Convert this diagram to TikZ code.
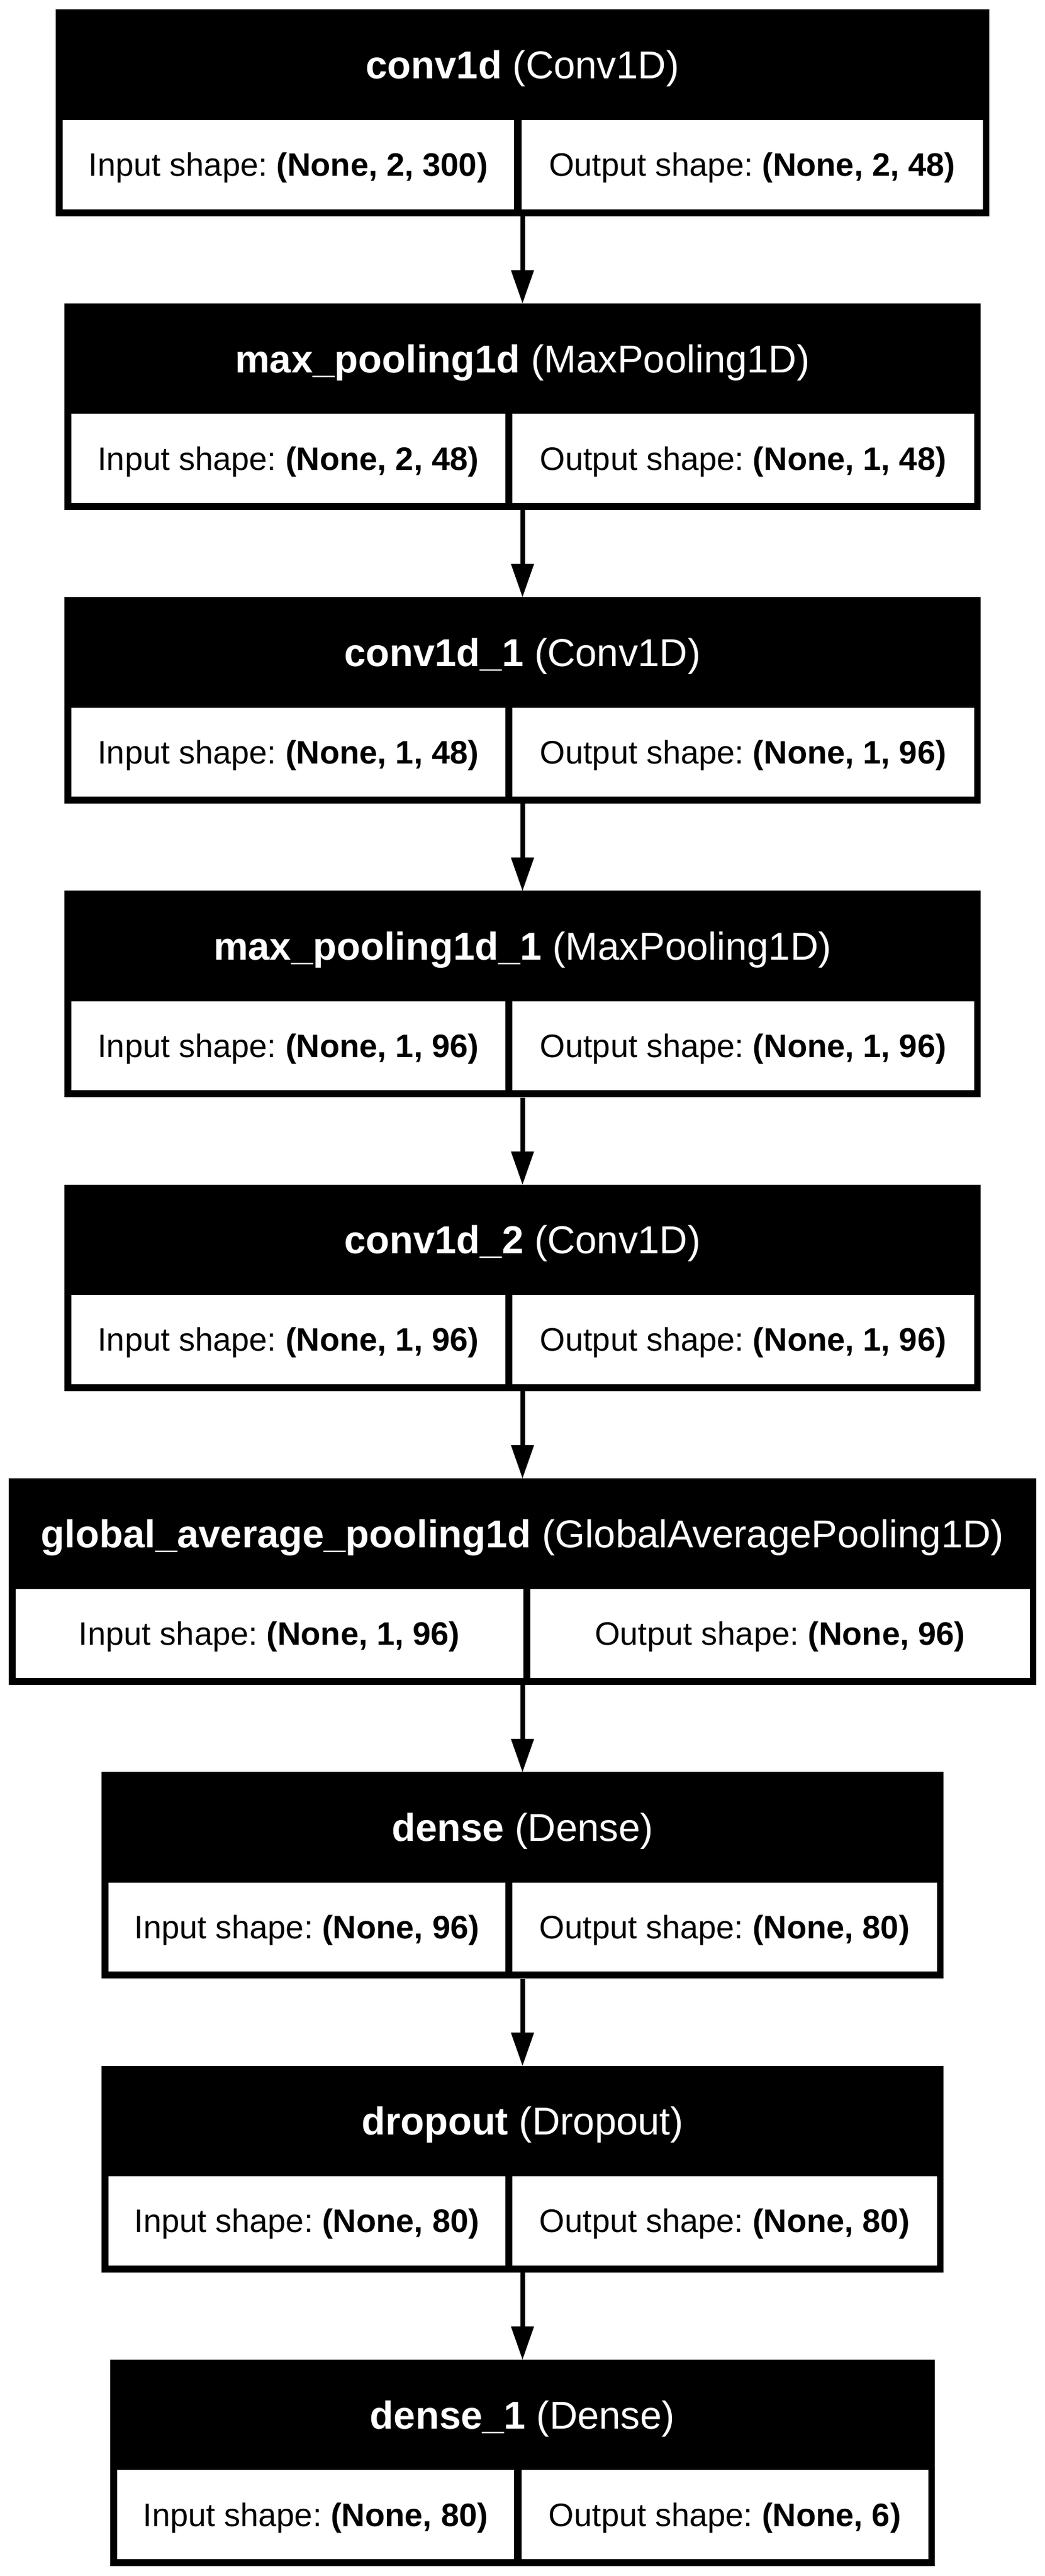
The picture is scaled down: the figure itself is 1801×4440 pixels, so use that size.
\documentclass[tikz,border=0pt]{standalone}
\usepackage{fontspec}
\setmainfont{Liberation Sans}
\frenchspacing
\tikzset{
  layerbox/.style={rectangle, fill=black, draw=none, inner sep=0pt, minimum height=356pt},
  titletext/.style={rectangle, inner sep=0pt, text=white, font=\frenchspacing\fontsize{67}{70}\selectfont, text height=48pt, text depth=0pt},
  cell/.style={rectangle, fill=white, draw=none, inner sep=0pt, minimum height=153.5pt, font=\frenchspacing\fontsize{56}{60}\selectfont, text height=40pt, text depth=0pt},
  conn/.style={line width=8pt, shorten >=50pt},
  connhead/.style={fill=black, draw=none}
}
\newcommand{\kerasLayer}[9]{%
  \pgfmathsetmacro{\lyW}{1801-2*#3}%
  \pgfmathsetmacro{\lyCY}{#2+178}%
  \node[layerbox, minimum width=\lyW pt] (#1) at (900.5,\lyCY) {};
  \pgfmathsetmacro{\lyHY}{#2+95.25}%
  \node[titletext] (#1-t) at (900.5,\lyHY) {#6};
  \pgfmathsetmacro{\lyRY}{#2+267.25}%
  \pgfmathsetmacro{\lyInW}{#4-#3-11.5}%
  \pgfmathsetmacro{\lyInX}{(#4+#3+11.5)/2}%
  \node[cell, minimum width=\lyInW pt] (#1-in) at (\lyInX,\lyRY) {Input shape: \textbf{#7}};
  \pgfmathsetmacro{\lyOutW}{1801-#3-11.5-#5}%
  \pgfmathsetmacro{\lyOutX}{(#5+1801-#3-11.5)/2}%
  \node[cell, minimum width=\lyOutW pt] (#1-out) at (\lyOutX,\lyRY) {Output shape: \textbf{#8}};
}
\newcommand{\kerasLink}[2]{%
  \draw[conn] (#1.south) -- (#2.north);
  \fill[connhead] (#2.north) -- ++(-20,-57) -- ++(40,0) -- cycle;
}
\begin{document}
\begin{tikzpicture}[x=1pt, y=-1pt]
\useasboundingbox (0,0) rectangle (1801,4440);
\kerasLayer{b1}{16.5}{96}{886}{899}{\textbf{conv1d} (Conv1D)}{(None, 2, 300)}{(None, 2, 48)}{}
\kerasLayer{b2}{522.8}{111}{871}{883}{\textbf{max\_pooling1d} (MaxPooling1D)}{(None, 2, 48)}{(None, 1, 48)}{}
\kerasLayer{b3}{1029.1}{111}{871}{883}{\textbf{conv1d\_1} (Conv1D)}{(None, 1, 48)}{(None, 1, 96)}{}
\kerasLayer{b4}{1535.4}{111}{871}{883}{\textbf{max\_pooling1d\_1} (MaxPooling1D)}{(None, 1, 96)}{(None, 1, 96)}{}
\kerasLayer{b5}{2041.7}{111}{871}{883}{\textbf{conv1d\_2} (Conv1D)}{(None, 1, 96)}{(None, 1, 96)}{}
\kerasLayer{b6}{2548.0}{15}{902}{914}{\textbf{global\_average\_pooling1d} (GlobalAveragePooling1D)}{(None, 1, 96)}{(None, 96)}{}
\kerasLayer{b7}{3054.3}{175}{871}{883}{\textbf{dense} (Dense)}{(None, 96)}{(None, 80)}{}
\kerasLayer{b8}{3560.6}{175}{871}{883}{\textbf{dropout} (Dropout)}{(None, 80)}{(None, 80)}{}
\kerasLayer{b9}{4066.9}{190}{886}{899}{\textbf{dense\_1} (Dense)}{(None, 80)}{(None, 6)}{}
\kerasLink{b1}{b2}
\kerasLink{b2}{b3}
\kerasLink{b3}{b4}
\kerasLink{b4}{b5}
\kerasLink{b5}{b6}
\kerasLink{b6}{b7}
\kerasLink{b7}{b8}
\kerasLink{b8}{b9}
\end{tikzpicture}
\end{document}
